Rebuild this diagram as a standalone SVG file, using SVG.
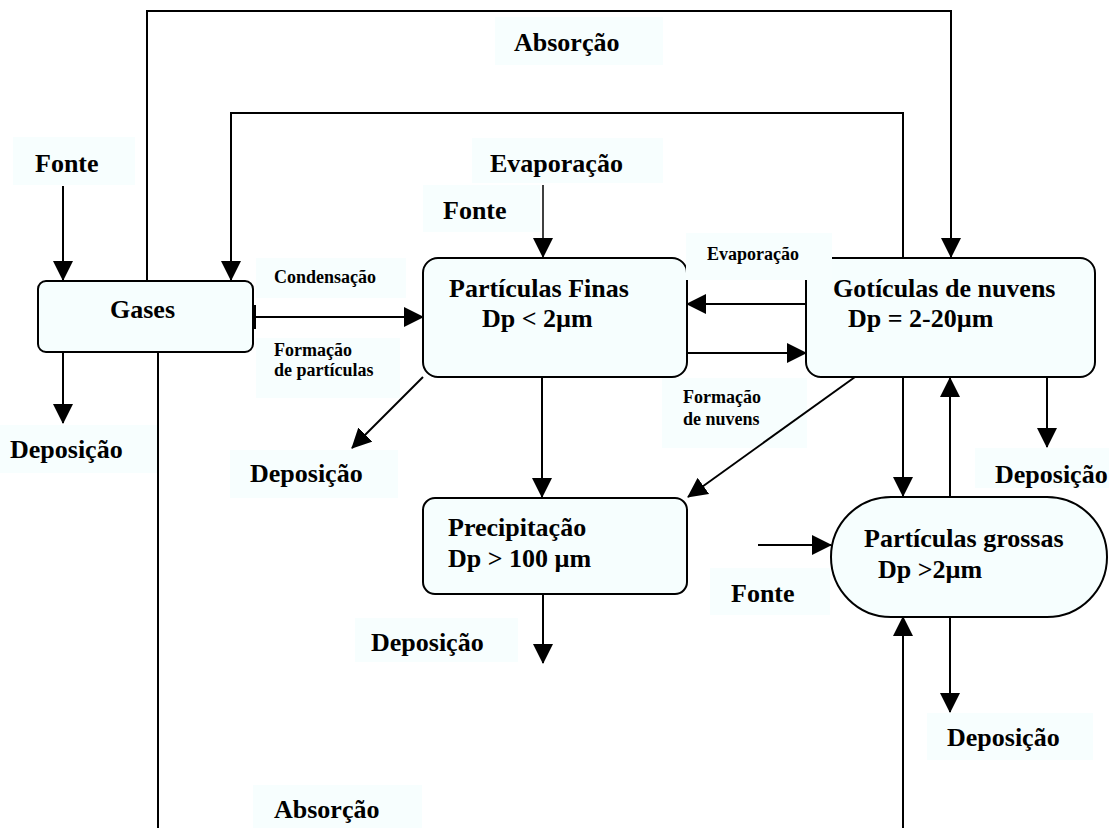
<svg xmlns="http://www.w3.org/2000/svg" width="1109" height="828" viewBox="0 0 1109 828">
<defs>
<marker id="ah" markerUnits="userSpaceOnUse" markerWidth="20" markerHeight="20" refX="19" refY="10" orient="auto" viewBox="0 0 20 20"><path d="M0,0 L20,10 L0,20 Z" fill="#000"/></marker>
</defs>
<style>
.box{fill:#f6fefe;stroke:#000;stroke-width:2}
.lbg{fill:#f7fefe}
.c{fill:none;stroke:#000;stroke-width:2}
.a{marker-end:url(#ah)}
.big{font-family:"Liberation Serif","Times New Roman",serif;font-weight:bold;font-size:26px;fill:#000}
.small{font-family:"Liberation Serif","Times New Roman",serif;font-weight:bold;font-size:18px;fill:#000}
</style>
<rect width="1109" height="828" fill="#fff"/>

<g id="labels">
<g id="lbl-fonte-1"><rect class="lbg" x="13" y="137" width="122" height="48"/><text class="big" x="35" y="172">Fonte</text></g>
<g id="lbl-absorcao-top"><rect class="lbg" x="495" y="17" width="168" height="48"/><text class="big" x="514" y="51">Absorção</text></g>
<g id="lbl-evaporacao-top"><rect class="lbg" x="472" y="138" width="191" height="45"/><text class="big" x="490" y="172">Evaporação</text></g>
<g id="lbl-fonte-2"><rect class="lbg" x="423" y="185" width="117" height="47"/><text class="big" x="443" y="219">Fonte</text></g>
<g id="lbl-condensacao"><rect class="lbg" x="256" y="258" width="150" height="40"/><text class="small" x="274" y="283">Condensação</text></g>
<g id="lbl-formacao-particulas"><rect class="lbg" x="256" y="338" width="144" height="60"/><text class="small" x="274" y="356">Formação</text><text class="small" x="274" y="376">de partículas</text></g>
<g id="lbl-formacao-nuvens"><rect class="lbg" x="662" y="378" width="145" height="70"/><text class="small" x="683" y="403">Formação</text><text class="small" x="683" y="425">de nuvens</text></g>
<g id="lbl-dep-1"><rect class="lbg" x="0" y="425" width="157" height="48"/><text class="big" x="10" y="458">Deposição</text></g>
<g id="lbl-dep-2"><rect class="lbg" x="230" y="450" width="168" height="48"/><text class="big" x="250" y="482">Deposição</text></g>
<g id="lbl-dep-3"><rect class="lbg" x="975" y="448" width="134" height="40"/><text class="big" x="995" y="483">Deposição</text></g>
<g id="lbl-dep-4"><rect class="lbg" x="355" y="618" width="163" height="44"/><text class="big" x="371" y="651">Deposição</text></g>
<g id="lbl-fonte-3"><rect class="lbg" x="710" y="568" width="120" height="47"/><text class="big" x="731" y="602">Fonte</text></g>
<g id="lbl-dep-5"><rect class="lbg" x="927" y="713" width="166" height="47"/><text class="big" x="947" y="746">Deposição</text></g>
<g id="lbl-absorcao-bottom"><rect class="lbg" x="253" y="785" width="169" height="43"/><text class="big" x="274" y="818">Absorção</text></g>
</g>

<g id="node-gases"><rect class="box" x="38" y="281" width="215" height="71" rx="8"/><text class="big" x="110" y="318">Gases</text></g>
<g id="node-finas"><rect class="box" x="423" y="258" width="264" height="119" rx="15"/><text class="big" x="449" y="297">Partículas Finas</text><text class="big" x="482" y="327">Dp &lt; 2µm</text></g>
<g id="node-goticulas"><rect class="box" x="806" y="258" width="289" height="119" rx="15"/><text class="big" x="833" y="297">Gotículas de nuvens</text><text class="big" x="848" y="327">Dp = 2-20µm</text></g>
<g id="node-precipitacao"><rect class="box" x="423" y="498" width="264" height="96" rx="12"/><text class="big" x="448" y="536">Precipitação</text><text class="big" x="448" y="567">Dp &gt; 100 µm</text></g>
<g id="node-grossas"><rect class="box" x="831" y="497" width="276" height="120" rx="60"/><text class="big" x="864" y="547">Partículas grossas</text><text class="big" x="878" y="578">Dp &gt;2µm</text></g>

<g id="connectors">
<path class="c a" d="M63,186 V280"/>
<path class="c a" d="M147,281 V11 H951 V257"/>
<path class="c a" d="M903,258 V113 H231 V280"/>
<path class="c" d="M255,305 V329"/>
<path class="c a" d="M255,317 H423"/>
<path class="c a" d="M63,352 V423"/>
<path class="c" d="M158,352 V828"/>
<path class="c a" style="stroke-width:1.5" d="M543,185 V257"/>
<path class="c a" d="M423,377 L352,448"/>
<path class="c a" d="M542,377 V497"/>
<path class="c a" d="M806,304 H687"/>
<path class="c a" d="M687,353 H806"/>
<path class="c a" d="M855,377 L688,497"/>
<path class="c a" d="M543,594 V663"/>
<path class="c a" d="M903,377 V496"/>
<path class="c a" d="M950,497 V378"/>
<path class="c a" d="M1047,377 V447"/>
<path class="c a" d="M758,545 H831"/>
<path class="c a" d="M950,617 V712"/>
<path class="c a" d="M903,828 V617"/>
</g>

<g id="lbl-evaporacao-small"><rect class="lbg" x="686" y="233" width="146" height="47"/><text class="small" x="707" y="260">Evaporação</text></g>
</svg>
